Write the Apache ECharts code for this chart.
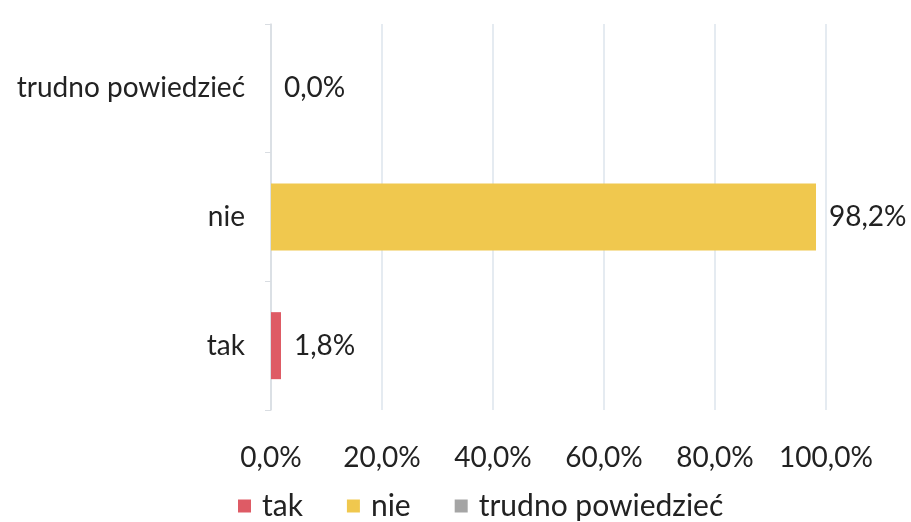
<!DOCTYPE html>
<html>
<head>
<meta charset="utf-8">
<script src="https://cdn.jsdelivr.net/npm/echarts@6/dist/echarts.min.js"></script>
<style>
  html, body { margin: 0; padding: 0; background: #fff; }
  #chart { width: 911px; height: 522px; }
</style>
</head>
<body>
<div id="chart"></div>
<script>
// categories from bottom to top
const categories = ['tak', 'nie', 'trudno powiedzieć']
const takValues = [1.8, '-', '-']
const nieValues = ['-', 98.2, '-']
const trudnoValues = ['-', '-', 0.0]
const xTicks = [0, 20, 40, 60, 80, 100]

const fmt = v => Number(v).toFixed(1).replace('.', ',') + '%'
const font = 'Lato, "Open Sans", sans-serif'

const labelStyle = {
  show: true,
  position: 'right',
  distance: 13,
  fontSize: 28,
  fontFamily: font,
  color: '#222',
  formatter: p => fmt(p.value)
}

const chart = echarts.init(document.getElementById('chart'))
chart.setOption({
  animation: false,
  textStyle: { fontFamily: font },
  grid: {
    left: 271,
    right: 85,
    top: 24,
    bottom: 112
  },
  legend: {
    left: 238,
    top: 491,
    padding: 0,
    itemWidth: 13,
    itemHeight: 13,
    itemGap: 44,
    icon: 'rect',
    textStyle: { fontSize: 30, color: '#222', fontFamily: font, padding: [0, 0, 0, 6] },
    data: ['tak', 'nie', 'trudno powiedzieć']
  },
  xAxis: {
    type: 'value',
    min: xTicks[0],
    max: xTicks[xTicks.length - 1],
    interval: 20,
    axisLine: { show: false },
    axisTick: { show: false },
    splitLine: { lineStyle: { color: '#dce4ec', width: 1.5 } },
    axisLabel: {
      margin: 34,
      fontSize: 28,
      color: '#222',
      fontFamily: font,
      formatter: fmt
    }
  },
  yAxis: {
    type: 'category',
    data: categories,
    axisLine: { lineStyle: { color: '#d9dde2', width: 1.5 } },
    axisTick: { show: true, length: 6, lineStyle: { color: '#d9dde2' } },
    axisLabel: {
      margin: 26,
      fontSize: 28,
      color: '#222',
      fontFamily: font
    }
  },
  series: [{
    name: 'tak',
    type: 'bar',
    stack: 'all',
    barWidth: 67,
    itemStyle: { color: '#de5b65' },
    label: labelStyle,
    data: takValues
  }, {
    name: 'nie',
    type: 'bar',
    stack: 'all',
    barWidth: 67,
    itemStyle: { color: '#f0c84e' },
    label: labelStyle,
    data: nieValues
  }, {
    name: 'trudno powiedzieć',
    type: 'bar',
    stack: 'all',
    barWidth: 67,
    itemStyle: { color: '#a5a5a5' },
    label: labelStyle,
    data: trudnoValues
  }]
})
</script>
</body>
</html>
